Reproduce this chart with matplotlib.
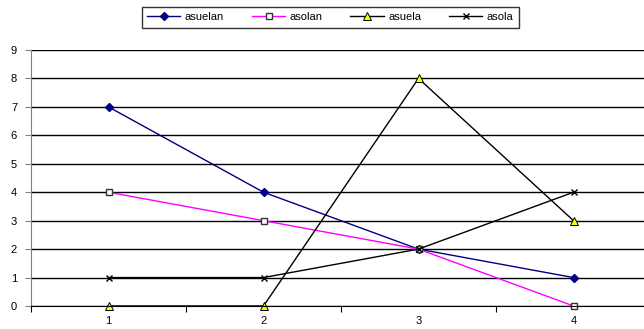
import matplotlib
matplotlib.use('Agg')
import matplotlib.pyplot as plt

plt.rcParams['font.family'] = ['Liberation Sans', 'DejaVu Sans']

# Categories and series values
categories = [1, 2, 3, 4]
asuelan = [7, 4, 2, 1]
asolan = [4, 3, 2, 0]
asuela = [0, 0, 8, 3]
asola = [1, 1, 2, 4]

fig = plt.figure(figsize=(6.44, 3.29), dpi=100)
ax = fig.add_axes([31 / 644, 1 - 306 / 329, 620 / 644, 256 / 329])

ax.plot(categories, asuelan, color='#000080', marker='D', markersize=4,
        markerfacecolor='#000080', lw=1, label='asuelan', clip_on=False)
ax.plot(categories, asolan, color='#ff00ff', marker='s', markersize=5,
        markerfacecolor='white', markeredgecolor='#333333', lw=1, label='asolan', clip_on=False)
ax.plot(categories, asuela, color='black', marker='^', markersize=6,
        markerfacecolor='yellow', markeredgecolor='black', markeredgewidth=0.7,
        lw=1, label='asuela', clip_on=False)
ax.plot(categories, asola, color='black', marker='x', markersize=5,
        lw=1, label='asola', clip_on=False)

ax.set_xlim(0.5, 4.5)
ax.set_ylim(0, 9)
ax.set_yticks(range(0, 10))
ax.set_xticks([0.5, 1.5, 2.5, 3.5])
ax.set_xticklabels([])
ax.set_xticks(categories, minor=True)
ax.set_xticklabels([str(c) for c in categories], minor=True)
ax.tick_params(axis='x', which='minor', length=0, labelsize=8, pad=7)
ax.tick_params(axis='x', which='major', length=4, direction='out')
ax.tick_params(axis='y', length=4, direction='out', labelsize=8, pad=6, color='#808080')

ax.yaxis.grid(True, color='black', lw=1)
ax.set_axisbelow(True)
for s in ['top', 'right']:
    ax.spines[s].set_visible(False)
ax.spines['left'].set_color('#808080')
ax.spines['bottom'].set_color('black')

leg = fig.legend(loc='upper left', bbox_to_anchor=(136 / 644, 1 - 1 / 329), ncol=4,
                 fontsize=8, frameon=True, fancybox=False, shadow=False,
                 edgecolor='black', handlelength=3.0, columnspacing=2.5,
                 borderpad=0.5, handletextpad=0.4)
leg.get_frame().set_linewidth(1)

fig.savefig('out.png', dpi=100)
